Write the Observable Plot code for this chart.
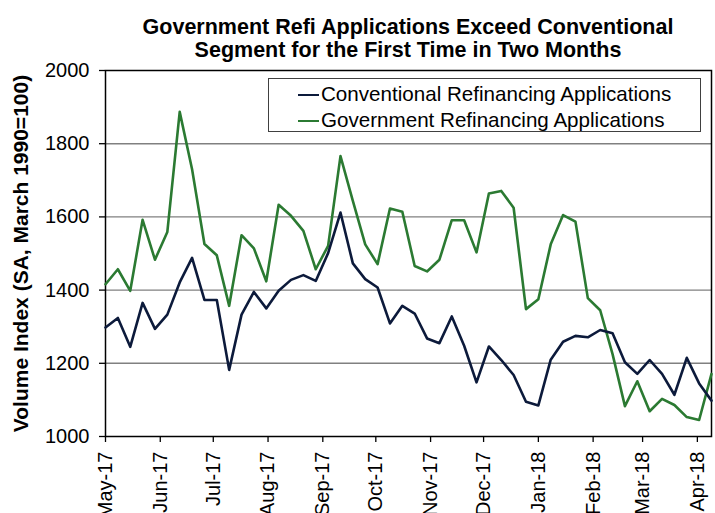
<!DOCTYPE html>
<html><head><meta charset="utf-8">
<script src="https://cdn.jsdelivr.net/npm/d3@7"></script>
<script src="https://cdn.jsdelivr.net/npm/@observablehq/plot@0.6"></script>
<style>
body{margin:0;background:#fff;font-family:"Liberation Sans",Arial,sans-serif;}
#wrap{position:relative;width:715px;height:513px;overflow:hidden;background:#fff;}
#title{position:absolute;left:100px;top:16px;width:616px;text-align:center;font-weight:bold;font-size:21.5px;line-height:23px;color:#000;}
#legend{position:absolute;left:268px;top:78px;width:431px;height:52px;border:1.5px solid #404040;background:#fff;font-size:20.6px;color:#000;}
.row{position:absolute;left:29px;height:24px;line-height:24px;white-space:nowrap;}
.sw{display:inline-block;width:21px;height:0;border-top:2.5px solid;vertical-align:middle;margin-right:2px;position:relative;top:-1px;}
#wrap svg g[aria-label="y-axis label"] text{font-weight:bold;font-size:21px;}
</style></head>
<body><div id="wrap">
<div id="chart"></div>
<div id="title">Government Refi Applications Exceed Conventional<br>Segment for the First Time in Two Months</div>
<div id="legend"></div>
</div>
<script>
const weeks = ["2017-05-01","2017-05-08","2017-05-15","2017-05-22","2017-05-29","2017-06-05","2017-06-12","2017-06-19","2017-06-26","2017-07-03","2017-07-10","2017-07-17","2017-07-24","2017-07-31","2017-08-07","2017-08-14","2017-08-21","2017-08-28","2017-09-04","2017-09-11","2017-09-18","2017-09-25","2017-10-02","2017-10-09","2017-10-16","2017-10-23","2017-10-30","2017-11-06","2017-11-13","2017-11-20","2017-11-27","2017-12-04","2017-12-11","2017-12-18","2017-12-25","2018-01-01","2018-01-08","2018-01-15","2018-01-22","2018-01-29","2018-02-05","2018-02-12","2018-02-19","2018-02-26","2018-03-05","2018-03-12","2018-03-19","2018-03-26","2018-04-02","2018-04-09"];
const conventional = [1298,1324,1245,1365,1294,1333,1421,1488,1373,1373,1182,1333,1395,1350,1398,1428,1441,1425,1501,1612,1473,1430,1407,1309,1357,1336,1268,1255,1328,1248,1148,1246,1209,1168,1095,1085,1210,1259,1275,1271,1291,1282,1203,1171,1209,1171,1114,1215,1145,1098];
const government = [1416,1457,1398,1592,1483,1559,1887,1730,1526,1495,1357,1550,1514,1424,1633,1603,1562,1457,1521,1766,1644,1525,1471,1623,1614,1466,1451,1483,1591,1591,1503,1664,1671,1625,1348,1375,1525,1605,1587,1378,1345,1225,1083,1151,1069,1103,1086,1053,1045,1171];
const seriesNames = ["Conventional Refinancing Applications","Government Refinancing Applications"];
const seriesColors = ["#0c1a3b","#2b7a32"];
const monthTicks = ["2017-05-01","2017-06-01","2017-07-01","2017-08-01","2017-09-01","2017-10-01","2017-11-01","2017-12-01","2018-01-01","2018-02-01","2018-03-01","2018-04-01"];
const yTicks = [1000,1200,1400,1600,1800,2000];
const gridTicks = [1200,1400,1600,1800];

const parse = d3.utcParse("%Y-%m-%d");
const convData = weeks.map((w,i)=>({date:parse(w), value:conventional[i]}));
const govData = weeks.map((w,i)=>({date:parse(w), value:government[i]}));

const chart = Plot.plot({
  width:715, height:513,
  marginTop:70, marginLeft:105, marginRight:4, marginBottom:77,
  style:{fontFamily:'"Liberation Sans",Arial,sans-serif', fontSize:"20px", color:"#000", background:"#fff"},
  x:{type:"utc", domain:[parse(weeks[0]), parse(weeks[weeks.length-1])]},
  y:{domain:[1000,2000]},
  marks:[
    Plot.gridY(gridTicks,{stroke:"#808080", strokeOpacity:1, strokeWidth:1.4}),
    Plot.frame({stroke:"#000", strokeWidth:1.5}),
    Plot.axisY(yTicks,{tickFormat:d3.format("d"), tickSize:6, tickPadding:10, stroke:"#000", strokeWidth:1.3,
      label:"Volume Index (SA, March 1990=100)", labelAnchor:"center", labelArrow:"none", labelOffset:92}),
    Plot.axisX(monthTicks.map(parse),{tickFormat:d3.utcFormat("%b-%y"), tickRotate:-90, tickSize:6, tickPadding:9, stroke:"#000", strokeWidth:1.3, label:null}),
    Plot.line(govData,{x:"date", y:"value", stroke:seriesColors[1], strokeWidth:2.6}),
    Plot.line(convData,{x:"date", y:"value", stroke:seriesColors[0], strokeWidth:2.6})
  ]
});
document.getElementById("chart").appendChild(chart);

const legend = document.getElementById("legend");
seriesNames.forEach((n,i)=>{
  const r = document.createElement("div");
  r.className="row";
  r.style.top = (3 + i*26)+"px";
  r.innerHTML = `<span class="sw" style="border-color:${seriesColors[i]}"></span>${n}`;
  legend.appendChild(r);
});
</script>
</body></html>
